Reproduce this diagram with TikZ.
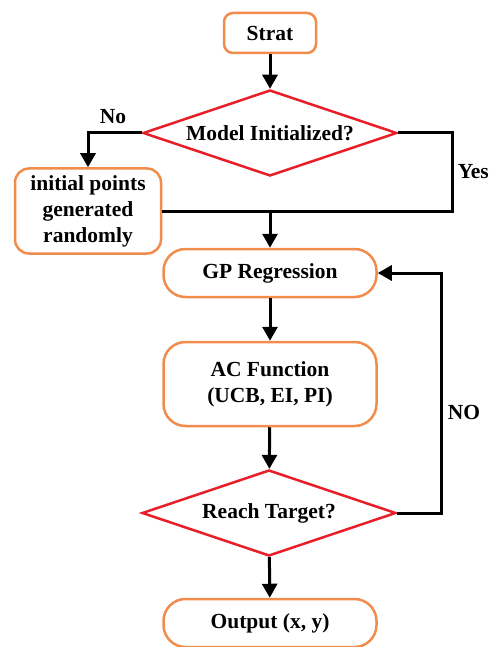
\documentclass[tikz,border=0pt]{standalone}
\usepackage{fontspec}
\setmainfont{Liberation Serif}
\usetikzlibrary{arrows.meta,shapes.geometric}
\definecolor{boxorange}{RGB}{242,140,76}
\definecolor{diared}{RGB}{232,30,40}

\begin{document}
\begin{tikzpicture}[x=1pt,y=-1pt,
		box/.style={draw=boxorange,line width=2.5pt,fill=white,align=center,inner sep=0pt,font=\fontsize{21.5}{26}\selectfont\bfseries},
		decision/.style={diamond,draw=diared,line width=2.5pt,fill=white,aspect=2.95,inner sep=0pt,minimum width=254pt,minimum height=86pt,font=\fontsize{21.5}{26}\selectfont\bfseries},
		lbl/.style={inner sep=0pt,font=\fontsize{21.5}{26}\selectfont\bfseries},
		flow/.style={line width=3pt,-{Triangle[length=14pt,width=15pt]}},
		link/.style={line width=3pt}]
		%%%%% START %%%%%
		
		\useasboundingbox (0, 0) rectangle (490, 647);
		
		\node[box, rounded corners=9pt, minimum width=92pt, minimum height=40pt] (start) at (270, 33) {Strat};
		\node[decision] (init) at (270, 133) {Model Initialized?};
		\node[box, rounded corners=14pt, minimum width=146pt, minimum height=85pt] (rand) at (88, 211) {initial points\\generated\\randomly};
		\node[box, rounded corners=22pt, minimum width=213pt, minimum height=48pt] (gp) at (270, 273) {GP Regression};
		\node[box, rounded corners=22pt, minimum width=213pt, minimum height=84pt] (ac) at (270, 384) {AC Function\\(UCB, EI, PI)};
		\node[decision] (target) at (269, 513) {Reach Target?};
		\node[box, rounded corners=22pt, minimum width=213pt, minimum height=48pt] (out) at (270, 623) {Output (x, y)};
		
		\coordinate (yesturn) at (452, 211);
		\coordinate (merge) at (270, 211);
		\coordinate (noturn) at (441, 273);
		
		\draw[flow] (start) -- (init);
		\draw[flow] (init.west) -| (rand.north);
		\draw[link] (init.east) -| (yesturn) -- (rand.east);
		\draw[flow] (merge) -- (gp);
		\draw[flow] (gp) -- (ac);
		\draw[flow] (ac) -- (target);
		\draw[flow] (target.east) -| (noturn) -- (gp.east);
		\draw[flow] (target) -- (out);
		
		\node[lbl] (nolbl) at (113, 117) {No};
		\node[lbl, anchor=east] (yeslbl) at (489, 172) {Yes};
		\node[lbl] (againlbl) at (464, 412) {NO};
		
		%%%%% END %%%%%
\end{tikzpicture}
\end{document}
